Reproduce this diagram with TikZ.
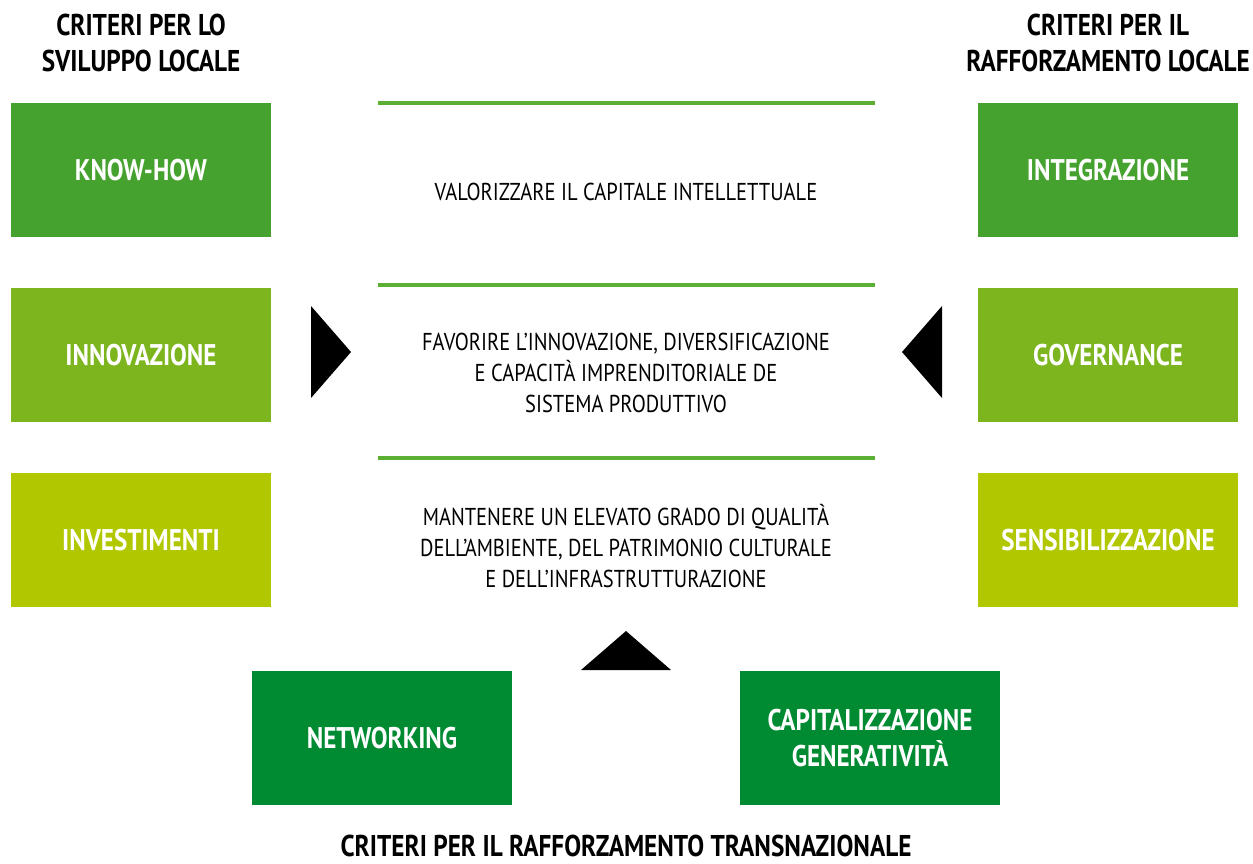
\documentclass[tikz,border=0pt]{standalone}
\usepackage{fontspec}
\setmainfont{PT Sans}[FakeStretch=0.84]
\usepackage{xcolor}
\usepackage{tikz}
\usetikzlibrary{positioning}

\definecolor{greenA}{RGB}{69,162,47}
\definecolor{greenB}{RGB}{125,181,31}
\definecolor{greenC}{RGB}{177,200,0}
\definecolor{greenD}{RGB}{0,138,50}
\definecolor{lineg}{RGB}{91,176,51}

\begin{document}
\begin{tikzpicture}[x=0.02cm,y=-0.02cm]
  \tikzstyle{crit}=[rectangle,minimum width=5.2cm,minimum height=2.68cm,inner sep=0pt,
    align=center,text=white,font=\fontsize{17}{20.5}\selectfont\bfseries]
  \tikzstyle{head}=[align=center,inner sep=0pt,font=\fontsize{17.1}{21}\selectfont\bfseries]
  \tikzstyle{goal}=[align=center,inner sep=0pt,font=\fontsize{13.9}{17.6}\selectfont]
  \tikzstyle{sep}=[draw=lineg,line width=2.2pt]

  \useasboundingbox (0,0) rectangle (1253,863);

  % titles
  \node[head] (hsx) at (141,43) {CRITERI PER LO\\SVILUPPO LOCALE};
  \node[head] (hdx) at (1108,43) {CRITERI PER IL\\RAFFORZAMENTO LOCALE};
  \node[head] (hbot) at (626,846) {CRITERI PER IL RAFFORZAMENTO TRANSNAZIONALE};

  % left column
  \node[crit,fill=greenA] (know) at (141,170) {KNOW-HOW};
  \node[crit,fill=greenB] (inno) at (141,355) {INNOVAZIONE};
  \node[crit,fill=greenC] (inve) at (141,540) {INVESTIMENTI};

  % right column
  \node[crit,fill=greenA] (inte) at (1108,170) {INTEGRAZIONE};
  \node[crit,fill=greenB] (gove) at (1108,355) {GOVERNANCE};
  \node[crit,fill=greenC] (sens) at (1108,540) {SENSIBILIZZAZIONE};

  % bottom row
  \node[crit,fill=greenD] (netw) at (382,738) {NETWORKING};
  \node[crit,fill=greenD] (capi) at (870,738) {CAPITALIZZAZIONE\\GENERATIVITÀ};

  % centre
  \coordinate (l1a) at (378,103); \coordinate (l1b) at (875,103);
  \coordinate (l2a) at (378,285); \coordinate (l2b) at (875,285);
  \coordinate (l3a) at (378,458); \coordinate (l3b) at (875,458);
  \draw[sep] (l1a) -- (l1b);
  \draw[sep] (l2a) -- (l2b);
  \draw[sep] (l3a) -- (l3b);

  \node[goal] (g1) at (626,192) {VALORIZZARE IL CAPITALE INTELLETTUALE};
  \node[goal] (g2) at (626,373) {FAVORIRE L’INNOVAZIONE, DIVERSIFICAZIONE\\E CAPACITÀ IMPRENDITORIALE DE\\SISTEMA PRODUTTIVO};
  \node[goal] (g3) at (626,546) {MANTENERE UN ELEVATO GRADO DI QUALITÀ\\DELL’AMBIENTE, DEL PATRIMONIO CULTURALE\\E DELL’INFRASTRUTTURAZIONE};

  % pointers
  \fill (311,306) -- (351,352) -- (311,398) -- cycle;
  \fill (942,306) -- (902,352) -- (942,398) -- cycle;
  \fill (581,670) -- (626,631) -- (671,670) -- cycle;
\end{tikzpicture}
\end{document}
